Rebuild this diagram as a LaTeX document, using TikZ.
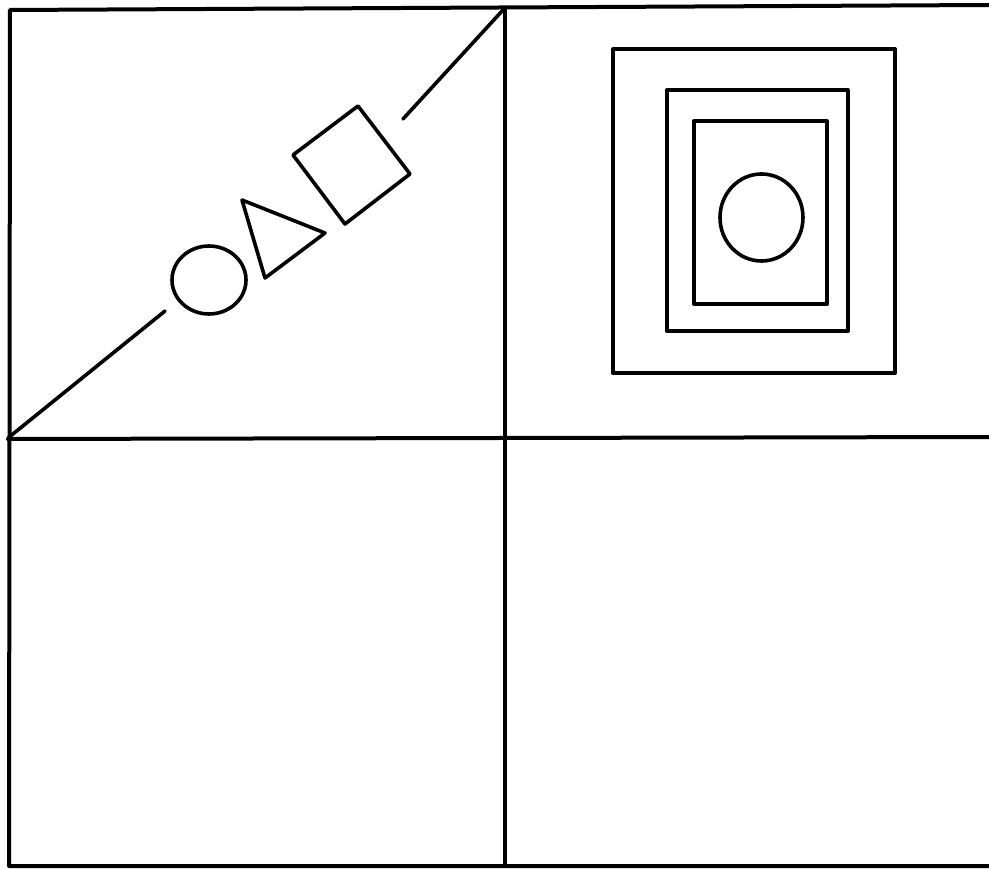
\documentclass[tikz,border=0pt]{standalone}
\begin{document}
\begin{tikzpicture}[x=1pt,y=-1pt,
  frameline/.style={line width=4pt,line cap=round,line join=round},
  figline/.style={line width=3.6pt,line join=round,line cap=round}]
\useasboundingbox[fill=white] (0,0) rectangle (989,869);
% frame
\draw[frameline] (989,5) -- (10,10) -- (9,866) -- (989,866);
\draw[frameline] (8,439) -- (989,437);
\draw[frameline] (505,8) -- (505,866);
% diagonal
\draw[figline] (8,438) -- (165,311);
\draw[figline] (403,119) -- (503,10);
% circle, triangle, square
\draw[figline] (209,280) ellipse [x radius=37, y radius=34];
\draw[figline] (242,200) -- (325,233) -- (265,278) -- cycle;
\draw[figline] (293,155) -- (358,106) -- (410,174) -- (345,224) -- cycle;
% nested rectangles
\draw[frameline] (613,49) rectangle (895,373);
\draw[frameline] (667,90) rectangle (848,331);
\draw[frameline] (694,121) rectangle (827,304);
\draw[figline] (761.5,217.5) ellipse [x radius=41.5, y radius=43.5];
\end{tikzpicture}
\end{document}
